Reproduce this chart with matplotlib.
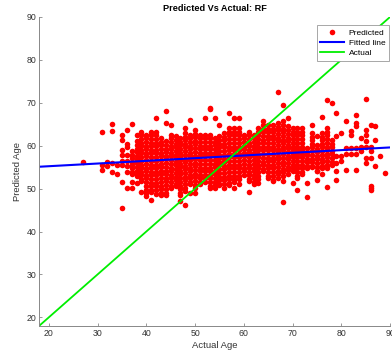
import numpy as np
import matplotlib.pyplot as plt

# =========================
# Data
# =========================

ages = [27, 31, 32, 33, 34, 35, 36, 37, 38, 39, 40, 41, 42, 43, 44, 45, 46, 47,
        48, 49, 50, 51, 52, 53, 54, 55, 56, 57, 58, 59, 60, 61, 62, 63, 64, 65,
        66, 67, 68, 69, 70, 71, 72, 73, 74, 75, 76, 77, 78, 79, 80, 81, 82, 83,
        84, 85, 86, 87, 88, 89]

predicted_by_age = [
    [56.3],
    [63.3, 55.6, 54.4],
    [56.2, 55.2],
    [65.0, 63.5, 56.0, 53.9],
    [55.6, 53.3],
    [62.6, 61.4, 59.1, 57.8, 56.5, 55.6, 51.6, 45.6],
    [63.7, 60.4, 59.6, 57.8, 56.5, 55.2, 53.9, 50.2],
    [65.0, 58.7, 57.9, 57.1, 56.3, 55.5, 54.7, 53.9, 53.3, 51.6, 50.2],
    [62.6, 61.0, 60.2, 59.3, 58.5, 57.6, 56.8, 55.9, 55.1, 54.2, 53.4, 52.9, 51.2],
    [63.3, 62.4, 61.6, 60.7, 59.9, 59.0, 58.2, 57.3, 56.5, 55.6, 54.8, 53.9, 53.1, 52.3, 51.7, 49.3],
    [62.6, 61.7, 60.9, 60.0, 59.2, 58.3, 57.5, 56.6, 55.8, 54.9, 54.1, 53.2, 52.4, 51.5, 50.7, 49.8, 49.0, 48.2],
    [63.3, 62.4, 61.6, 60.7, 59.9, 59.0, 58.2, 57.3, 56.5, 55.6, 54.8, 53.9, 53.1, 52.2, 51.4, 50.5, 49.7, 49.3, 47.4],
    [66.4, 63.3, 62.4, 61.6, 60.7, 59.9, 59.0, 58.2, 57.3, 56.5, 55.6, 54.8, 53.9, 53.1, 52.2, 51.4, 50.5, 49.7, 48.8],
    [61.8, 60.9, 60.1, 59.2, 58.4, 57.5, 56.7, 55.8, 55.0, 54.1, 53.3, 52.4, 51.6, 50.7, 49.9, 49.1, 48.6],
    [68.0, 65.3, 61.0, 60.2, 59.3, 58.5, 57.6, 56.8, 55.9, 55.1, 54.2, 53.4, 52.5, 51.7, 50.8, 50.0, 49.1, 48.6],
    [64.9, 62.6, 61.7, 60.9, 60.0, 59.2, 58.3, 57.5, 56.6, 55.8, 54.9, 54.1, 53.2, 52.4, 51.5, 50.7, 50.2],
    [62.2, 61.3, 60.5, 59.6, 58.8, 57.9, 57.1, 56.2, 55.4, 54.5, 53.7, 52.8, 52.0, 51.1, 50.6],
    [61.8, 60.9, 60.1, 59.2, 58.4, 57.5, 56.7, 55.8, 55.0, 54.1, 53.3, 52.4, 51.6, 50.7, 49.9, 49.0, 48.6, 47.2],
    [64.1, 63.0, 62.1, 61.3, 60.4, 59.6, 58.7, 57.9, 57.0, 56.2, 55.3, 54.5, 53.6, 52.8, 51.9, 51.1, 50.2, 49.4, 46.2],
    [66.1, 62.6, 61.7, 60.9, 60.0, 59.2, 58.3, 57.5, 56.6, 55.8, 54.9, 54.1, 53.2, 52.4, 51.5, 51.0, 49.1],
    [63.7, 62.8, 62.0, 61.1, 60.3, 59.4, 58.6, 57.7, 56.9, 56.0, 55.2, 54.3, 53.5, 52.6, 51.8, 50.9, 50.1, 49.1],
    [62.6, 61.7, 60.9, 60.0, 59.2, 58.3, 57.5, 56.6, 55.8, 54.9, 54.1, 53.2, 52.4, 51.5, 51.0],
    [66.4, 62.6, 61.7, 60.9, 60.0, 59.2, 58.3, 57.5, 56.6, 55.8, 54.9, 54.1, 53.2, 52.4, 51.5],
    [68.9, 68.5, 62.6, 61.7, 60.9, 60.0, 59.2, 58.3, 57.5, 56.6, 55.8, 54.9, 54.1, 53.2, 52.4, 51.5, 50.7, 50.2],
    [66.4, 61.8, 60.9, 60.1, 59.2, 58.4, 57.5, 56.7, 55.8, 55.0, 54.1, 53.3, 52.4, 51.6, 50.9, 50.2],
    [64.9, 62.2, 61.3, 60.5, 59.6, 58.8, 57.9, 57.1, 56.2, 55.4, 54.5, 53.7, 52.8, 52.0, 51.1, 50.8],
    [63.0, 62.1, 61.3, 60.4, 59.6, 58.7, 57.9, 57.0, 56.2, 55.3, 54.5, 53.6, 52.8, 51.9, 51.1, 50.2],
    [67.6, 64.1, 63.2, 62.4, 61.5, 60.7, 59.8, 59.0, 58.1, 57.3, 56.4, 55.6, 54.7, 53.9, 53.0, 52.2, 51.3, 50.8],
    [66.4, 64.1, 63.2, 62.4, 61.5, 60.7, 59.8, 59.0, 58.1, 57.3, 56.4, 55.6, 54.7, 53.9, 53.0, 52.2, 51.5, 50.2],
    [66.4, 64.1, 63.2, 62.4, 61.5, 60.7, 59.8, 59.0, 58.1, 57.3, 56.4, 55.6, 54.7, 53.9, 53.0, 52.2, 51.0],
    [62.6, 61.7, 60.9, 60.0, 59.2, 58.3, 57.5, 56.6, 55.8, 54.9, 54.1, 53.2],
    [63.3, 62.4, 61.6, 60.7, 59.9, 59.0, 58.2, 57.3, 56.5, 55.6, 54.8, 53.9, 53.1, 52.2, 51.7, 49.3],
    [62.6, 61.7, 60.9, 60.0, 59.2, 58.3, 57.5, 56.6, 55.8, 54.9, 54.1, 53.2, 52.4, 51.5, 51.0],
    [64.1, 63.2, 62.4, 61.5, 60.7, 59.8, 59.0, 58.1, 57.3, 56.4, 55.6, 54.7, 53.9, 53.0, 52.2, 51.4],
    [65.7, 64.8, 64.0, 63.1, 62.3, 61.4, 60.6, 59.7, 58.9, 58.0, 57.2, 56.3, 55.5, 54.6, 54.0],
    [64.9, 64.0, 63.2, 62.3, 61.5, 60.6, 59.8, 58.9, 58.1, 57.2, 56.4, 55.5, 54.7, 53.8, 53.0, 52.5],
    [64.9, 64.0, 63.2, 62.3, 61.5, 60.6, 59.8, 58.9, 58.1, 57.2, 56.4, 55.5, 54.7, 53.8, 53.0, 52.1, 51.7],
    [72.6, 65.3, 64.4, 63.6, 62.7, 61.9, 61.0, 60.2, 59.3, 58.5, 57.6, 56.8, 55.9, 55.1, 54.2, 53.4, 52.5],
    [69.5, 65.7, 64.8, 64.0, 63.1, 62.3, 61.4, 60.6, 59.7, 58.9, 58.0, 57.2, 56.3, 55.5, 54.6, 53.8, 52.9, 51.8, 47.0],
    [66.4, 64.5, 63.6, 62.8, 61.9, 61.1, 60.2, 59.4, 58.5, 57.7, 56.8, 56.0, 55.1, 54.3, 53.3],
    [64.1, 63.2, 62.4, 61.5, 60.7, 59.8, 59.0, 58.1, 57.3, 56.4, 55.6, 54.7, 54.0, 51.3],
    [64.1, 63.2, 62.4, 61.5, 60.7, 59.8, 59.0, 58.1, 57.3, 56.4, 55.6, 54.7, 53.9, 53.0, 52.5, 49.7],
    [64.1, 63.2, 62.4, 61.5, 60.7, 59.8, 59.0, 58.1, 57.3, 56.4, 55.6, 54.7, 53.9, 53.3],
    [59.5, 58.6, 57.8, 56.9, 56.1, 55.2, 54.8, 51.2, 48.1],
    [64.9, 63.0, 62.1, 61.3, 60.4, 59.6, 58.7, 57.9, 57.0, 56.2, 55.3, 55.0],
    [62.2, 60.2, 59.3, 58.5, 57.6, 56.8, 55.9, 55.1, 54.2, 54.0, 52.1],
    [66.8, 63.0, 62.1, 61.3, 60.4, 59.6, 58.7, 57.9, 57.0, 56.2, 55.3, 54.8, 53.3],
    [70.7, 64.1, 63.2, 62.4, 61.5, 60.7, 59.8, 59.0, 58.1, 57.3, 56.4, 55.6, 54.8, 50.4],
    [70.0, 61.4, 60.5, 59.7, 58.8, 58.0, 57.1, 56.3, 55.6],
    [67.6, 62.2, 57.5, 56.0, 54.0, 52.1],
    [63.0, 57.5, 56.5],
    [65.7, 59.5, 58.0, 54.4],
    [63.4, 62.6, 59.5, 58.0],
    [67.1, 65.3, 64.5, 59.5, 58.0, 54.4],
    [61.8, 59.8, 58.7],
    [70.9, 63.7, 62.5, 61.2, 59.8, 57.1, 56.0],
    [64.9, 59.8, 58.7, 57.1, 50.7, 50.2, 49.7],
    [64.5, 61.4, 55.2],
    [57.5],
    [53.7],
]

# fitted line end points and the y = x reference line
fit_x = [18, 90]
fit_y = [55.1, 59.6]
actual_line = [18, 90]

actual = np.repeat(ages, [len(v) for v in predicted_by_age])
predicted = np.concatenate(predicted_by_age)

# =========================
# Plot
# =========================

plt.rcParams["font.family"] = ["Liberation Sans", "DejaVu Sans"]

fig = plt.figure(figsize=(3.92, 3.61), dpi=100)
ax = fig.add_axes([0.0995, 0.097, 0.8955, 0.856])

ax.plot(actual, predicted, "o", color="red", markersize=4,
        markeredgewidth=0, label="Predicted")
ax.plot(fit_x, fit_y, color="blue", linewidth=1.5, label="Fitted line")
ax.plot(actual_line, actual_line, color="#00ee00", linewidth=1.3,
        label="Actual")

ax.set_xlim(18, 90)
ax.set_ylim(18, 90)
ax.set_xticks(range(20, 91, 10))
ax.set_yticks(range(20, 91, 10))

for side in ["top", "right"]:
    ax.spines[side].set_visible(False)
for side in ["left", "bottom"]:
    ax.spines[side].set_color("#888888")
    ax.spines[side].set_linewidth(0.7)

ax.tick_params(direction="in", length=2.5, width=0.6, color="#888888",
               labelcolor="#333333", labelsize=6.3, pad=2)

ax.set_xlabel("Actual Age", fontsize=6.8, color="#333333", labelpad=2)
ax.set_ylabel("Predicted Age", fontsize=6.8, color="#333333", labelpad=3)
ax.set_title("Predicted Vs Actual: RF", fontsize=6.6, fontweight="bold",
             pad=4)

leg = ax.legend(loc="upper right", bbox_to_anchor=(0.997, 0.974),
                borderaxespad=0, fontsize=6, fancybox=False, framealpha=1,
                edgecolor="#999999", handlelength=2.8, borderpad=0.45,
                labelspacing=0.3, handletextpad=0.6)
leg.get_frame().set_linewidth(0.6)

plt.savefig("out.png", dpi=100)
